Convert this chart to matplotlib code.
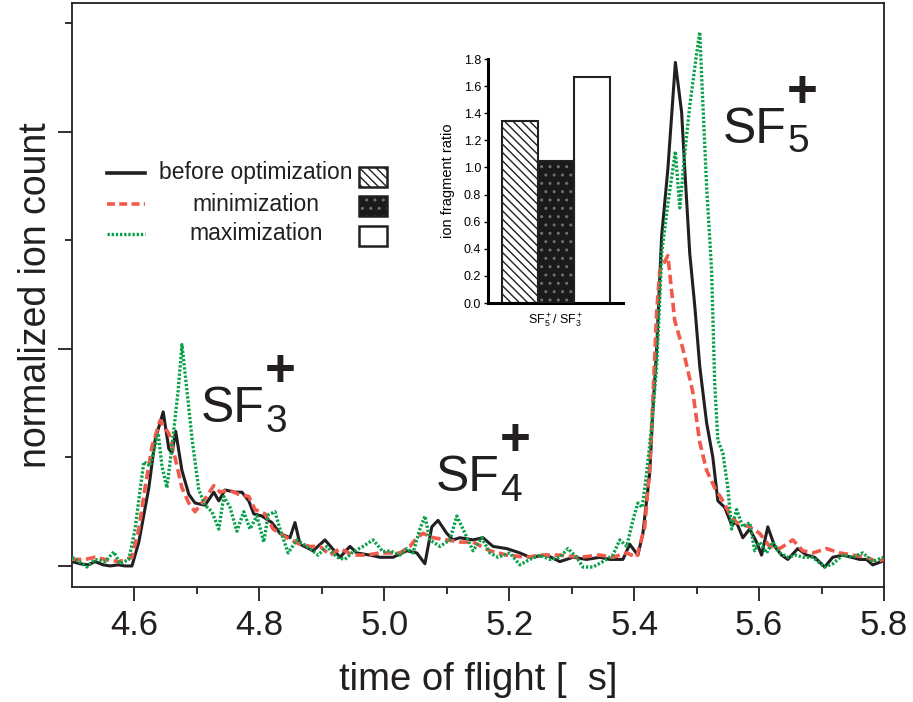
import numpy as np
import matplotlib
matplotlib.use("Agg")
import matplotlib.pyplot as plt
from matplotlib.lines import Line2D
from matplotlib.patches import Rectangle
from matplotlib.transforms import offset_copy

plt.rcParams["font.family"] = ["Liberation Sans", "DejaVu Sans"]
plt.rcParams["mathtext.fontset"] = "custom"
plt.rcParams["mathtext.rm"] = "Liberation Sans"
plt.rcParams["mathtext.it"] = "Liberation Sans:italic"
plt.rcParams["mathtext.bf"] = "Liberation Sans:bold"
plt.rcParams["hatch.linewidth"] = 1.0

# ---- time-of-flight traces (time in microseconds, normalized counts) ----
t_before = [4.500, 4.513, 4.526, 4.537, 4.550, 4.561, 4.574, 4.585, 4.596, 4.607,
            4.623, 4.633, 4.646, 4.655, 4.660, 4.666, 4.676, 4.687, 4.697, 4.713,
            4.727, 4.735, 4.745, 4.761, 4.772, 4.783, 4.791, 4.804, 4.820, 4.833,
            4.849, 4.857, 4.865, 4.886, 4.905, 4.929, 4.945, 4.956, 4.977, 4.993,
            5.014, 5.036, 5.052, 5.065, 5.076, 5.086, 5.100, 5.110, 5.121, 5.142,
            5.158, 5.174, 5.196, 5.217, 5.233, 5.260, 5.281, 5.302, 5.324, 5.345,
            5.361, 5.382, 5.393, 5.398, 5.406, 5.414, 5.425, 5.430, 5.436, 5.444,
            5.454, 5.466, 5.476, 5.481, 5.489, 5.497, 5.505, 5.516, 5.526, 5.534,
            5.545, 5.556, 5.564, 5.574, 5.585, 5.596, 5.604, 5.614, 5.625, 5.636,
            5.646, 5.662, 5.676, 5.689, 5.705, 5.718, 5.734, 5.748, 5.761, 5.772,
            5.782, 5.796]
y_before = [0.02, 0.01, 0.005, 0.02, 0.005, 0.0, 0.005, 0.0, 0.0, 0.11,
            0.36, 0.58, 0.71, 0.54, 0.52, 0.62, 0.44, 0.33, 0.29, 0.28,
            0.34, 0.30, 0.35, 0.34, 0.34, 0.30, 0.24, 0.23, 0.20, 0.15,
            0.13, 0.20, 0.10, 0.07, 0.12, 0.04, 0.09, 0.06, 0.05, 0.04,
            0.04, 0.07, 0.06, 0.01, 0.18, 0.21, 0.15, 0.12, 0.13, 0.12,
            0.13, 0.09, 0.08, 0.06, 0.04, 0.05, 0.02, 0.04, 0.03, 0.04,
            0.03, 0.03, 0.10, 0.08, 0.05, 0.15, 0.43, 0.72, 1.00, 1.52,
            1.83, 2.32, 2.09, 1.83, 1.44, 1.20, 0.92, 0.66, 0.50, 0.30,
            0.27, 0.19, 0.20, 0.13, 0.17, 0.11, 0.05, 0.18, 0.09, 0.05,
            0.03, 0.08, 0.05, 0.04, -0.005, 0.04, 0.05, 0.04, 0.03, 0.03,
            0.005, 0.02]

t_min = [4.500, 4.521, 4.537, 4.553, 4.575, 4.596, 4.607, 4.617, 4.628, 4.641,
         4.655, 4.665, 4.676, 4.687, 4.697, 4.713, 4.727, 4.737, 4.751, 4.767,
         4.783, 4.793, 4.809, 4.822, 4.844, 4.865, 4.881, 4.897, 4.913, 4.929,
         4.950, 4.972, 4.993, 5.025, 5.041, 5.052, 5.062, 5.078, 5.100, 5.121,
         5.142, 5.169, 5.196, 5.228, 5.249, 5.281, 5.313, 5.345, 5.366, 5.388,
         5.404, 5.417, 5.425, 5.430, 5.436, 5.441, 5.454, 5.465, 5.478, 5.494,
         5.505, 5.516, 5.529, 5.542, 5.553, 5.564, 5.585, 5.601, 5.617, 5.633,
         5.654, 5.670, 5.686, 5.708, 5.729, 5.750, 5.772, 5.788, 5.799]
y_min = [0.03, 0.03, 0.04, 0.03, 0.02, 0.04, 0.17, 0.36, 0.55, 0.67,
         0.61, 0.50, 0.36, 0.29, 0.25, 0.31, 0.37, 0.34, 0.35, 0.33,
         0.32, 0.26, 0.24, 0.17, 0.13, 0.10, 0.09, 0.09, 0.05, 0.08,
         0.05, 0.05, 0.06, 0.06, 0.09, 0.13, 0.15, 0.13, 0.12, 0.11,
         0.11, 0.07, 0.05, 0.04, 0.05, 0.05, 0.04, 0.05, 0.04, 0.06,
         0.04, 0.18, 0.46, 0.77, 1.17, 1.36, 1.43, 1.13, 1.00, 0.80,
         0.57, 0.44, 0.36, 0.30, 0.24, 0.20, 0.18, 0.15, 0.09, 0.08,
         0.12, 0.07, 0.06, 0.08, 0.06, 0.05, 0.04, 0.02, 0.03]

t_max = [4.500, 4.511, 4.524, 4.537, 4.553, 4.567, 4.577, 4.591, 4.601, 4.609,
         4.615, 4.625, 4.638, 4.644, 4.652, 4.660, 4.670, 4.676, 4.684, 4.692,
         4.703, 4.713, 4.724, 4.735, 4.743, 4.753, 4.764, 4.775, 4.785, 4.796,
         4.807, 4.814, 4.825, 4.833, 4.846, 4.860, 4.876, 4.894, 4.908, 4.924,
         4.937, 4.950, 4.966, 4.982, 4.998, 5.009, 5.025, 5.036, 5.046, 5.057,
         5.065, 5.073, 5.089, 5.105, 5.116, 5.126, 5.142, 5.156, 5.169, 5.182,
         5.201, 5.217, 5.233, 5.249, 5.265, 5.281, 5.294, 5.308, 5.318, 5.334,
         5.350, 5.366, 5.377, 5.388, 5.398, 5.406, 5.413, 5.420, 5.428, 5.436,
         5.441, 5.444, 5.454, 5.466, 5.473, 5.481, 5.489, 5.500, 5.505, 5.510,
         5.516, 5.524, 5.529, 5.534, 5.542, 5.550, 5.556, 5.564, 5.574, 5.585,
         5.593, 5.601, 5.612, 5.622, 5.633, 5.646, 5.660, 5.670, 5.686, 5.705,
         5.718, 5.734, 5.750, 5.766, 5.782, 5.799]
y_max = [0.04, 0.02, -0.005, 0.03, 0.02, 0.065, 0.01, 0.03, 0.17, 0.35,
         0.48, 0.46, 0.61, 0.46, 0.36, 0.55, 0.81, 1.02, 0.81, 0.59,
         0.35, 0.28, 0.25, 0.17, 0.32, 0.27, 0.16, 0.25, 0.17, 0.23,
         0.11, 0.235, 0.25, 0.17, 0.06, 0.12, 0.09, 0.05, 0.09, 0.04,
         0.03, 0.065, 0.09, 0.12, 0.065, 0.07, 0.05, 0.08, 0.06, 0.17,
         0.23, 0.12, 0.09, 0.12, 0.23, 0.17, 0.07, 0.13, 0.06, 0.04,
         0.06, 0.005, 0.03, 0.05, 0.03, 0.04, 0.08, 0.04, -0.005, -0.005,
         0.02, 0.05, 0.12, 0.09, 0.21, 0.29, 0.27, 0.43, 0.64, 0.92,
         1.23, 1.44, 1.67, 1.91, 1.65, 1.90, 2.12, 2.36, 2.46, 2.13,
         1.75, 1.36, 0.84, 0.58, 0.52, 0.36, 0.17, 0.26, 0.18, 0.20,
         0.07, 0.11, 0.06, 0.11, 0.06, 0.04, 0.05, 0.04, 0.04, -0.005,
         0.01, 0.05, 0.04, 0.06, 0.02, 0.04]

x_tick_values = [4.6, 4.8, 5.0, 5.2, 5.4, 5.6, 5.8]
x_tick_labels = ["4.6", "4.8", "5.0", "5.2", "5.4", "5.6", "5.8"]

# ---- inset: SF5+/SF3+ fragment ratio ----
ratio_values = [1.34, 1.05, 1.67]
ratio_ticks = [0.0, 0.2, 0.4, 0.6, 0.8, 1.0, 1.2, 1.4, 1.6, 1.8]

legend_labels = ["before optimization", "minimization", "maximization"]
peak_subscripts = ["3", "4", "5"]
peak_positions = [(4.706, 0.664), (5.082, 0.346), (5.542, 1.95)]

BLACK = "#231f20"
RED = "#f15a4b"
GREEN = "#0aa14b"

W, H = 913, 702
fig = plt.figure(figsize=(W / 100, H / 100), dpi=100)
ax = fig.add_axes([72 / W, 1 - 587 / H, (884 - 72) / W, (587 - 3) / H])

ax.plot(t_before, y_before, color=BLACK, lw=2.2, zorder=3)
ax.plot(t_min, y_min, color=RED, lw=2.6, ls=(0, (2.6, 1.3)), zorder=4)
ax.plot(t_max, y_max, color=GREEN, lw=2.4, ls=(0, (0.7, 0.55)), zorder=5)

ax.set_xlim(4.5, 5.8)
ax.set_ylim(-0.097, 2.594)
ax.set_xticks(x_tick_values)
ax.set_xticklabels(x_tick_labels)
ax.set_xticks([4.7, 4.9, 5.1, 5.3, 5.5, 5.7], minor=True)
ax.set_yticks([0, 1, 2])
ax.set_yticklabels([])
ax.set_yticks([0.5, 1.5, 2.5], minor=True)
ax.tick_params(which="both", direction="out", width=1.3, color=BLACK)
ax.tick_params(which="major", length=10, labelsize=25, pad=6, labelcolor=BLACK)
ax.tick_params(which="minor", length=5)
for s in ax.spines.values():
    s.set_linewidth(1.3)
    s.set_color(BLACK)

ax.set_xlabel("time of flight [  s]", fontsize=27.5, color=BLACK, labelpad=14)
ax.set_ylabel("normalized ion count", fontsize=27, color=BLACK)
ax.yaxis.set_label_coords(-0.022, 0.5)

# peak labels: "SF" with subscript digit and a large "+"
for sub, (px, py) in zip(peak_subscripts, peak_positions):
    ax.text(px, py, "SF", fontsize=36, color=BLACK, va="baseline", ha="left")
    t_sub = offset_copy(ax.transData, fig=fig, x=46.5, y=-7, units="points")
    ax.text(px, py, sub, fontsize=28, color=BLACK, va="baseline", ha="left",
            transform=t_sub)
    t_plus = offset_copy(ax.transData, fig=fig, x=46, y=36, units="points")
    ax.text(px, py, "+", fontsize=38, color=BLACK, va="center", ha="left",
            fontweight="bold", transform=t_plus)

# ---- legend drawn in figure pixels ----
line_styles = [dict(color=BLACK, lw=2.6, ls="-"),
               dict(color=RED, lw=2.6, ls=(0, (2.2, 1.2))),
               dict(color=GREEN, lw=2.4, ls=(0, (0.7, 0.55)))]
row_y = [173, 204, 234]
for lab, st, yy in zip(legend_labels, line_styles, row_y):
    fig.add_artist(Line2D([107 / W, 145 / W], [1 - yy / H] * 2,
                          transform=fig.transFigure, **st))
    fig.text(256 / W, 1 - yy / H, lab, fontsize=16.5, color=BLACK,
             ha="center", va="center")

box_y = [177, 206, 236]
bw, bh = 28, 20
b0 = Rectangle((359 / W, 1 - (box_y[0] + bh / 2) / H), bw / W, bh / H,
               transform=fig.transFigure, facecolor="white", edgecolor=BLACK,
               lw=1.8, hatch="\\\\\\\\")
b1 = Rectangle((359 / W, 1 - (box_y[1] + bh / 2) / H), bw / W, bh / H,
               transform=fig.transFigure, facecolor="#1a1a1a", edgecolor="#707070",
               lw=0, hatch="..")
b1o = Rectangle((359 / W, 1 - (box_y[1] + bh / 2) / H), bw / W, bh / H,
                transform=fig.transFigure, fill=False, edgecolor=BLACK, lw=1.8)
b2 = Rectangle((359 / W, 1 - (box_y[2] + bh / 2) / H), bw / W, bh / H,
               transform=fig.transFigure, facecolor="white", edgecolor=BLACK, lw=1.8)
for p in (b0, b1, b1o, b2):
    fig.add_artist(p)

# ---- inset bar chart ----
axin = fig.add_axes([488 / W, 1 - 303 / H, (623 - 488) / W, (303 - 59) / H])
xpos = [0, 1, 2]
axin.bar(xpos[0], ratio_values[0], width=1, facecolor="white", edgecolor=BLACK,
         lw=1.5, hatch="\\\\\\\\", zorder=2)
axin.bar(xpos[1], ratio_values[1], width=1, facecolor="#1a1a1a", edgecolor="#707070",
         lw=0, hatch="..", zorder=2)
axin.bar(xpos[1], ratio_values[1], width=1, fill=False, edgecolor=BLACK, lw=1.5, zorder=3)
axin.bar(xpos[2], ratio_values[2], width=1, facecolor="white", edgecolor=BLACK,
         lw=1.5, zorder=2)
axin.set_xlim(-0.89, 2.86)
axin.set_ylim(0, 1.8)
axin.set_yticks(ratio_ticks)
axin.set_yticklabels([f"{v:.1f}" for v in ratio_ticks])
axin.set_xticks([1])
axin.set_xticklabels([r"SF$_5^+$/ SF$_3^+$"])
axin.tick_params(axis="y", direction="out", length=3, width=1, labelsize=9, pad=2)
axin.tick_params(axis="x", length=0, labelsize=9, pad=6)
axin.spines["top"].set_visible(False)
axin.spines["right"].set_visible(False)
axin.spines["left"].set_linewidth(2.2)
axin.spines["bottom"].set_linewidth(2.2)
axin.set_ylabel("ion fragment ratio", fontsize=10.5, labelpad=6)
axin.patch.set_alpha(0)

fig.savefig("out.png", dpi=100)
